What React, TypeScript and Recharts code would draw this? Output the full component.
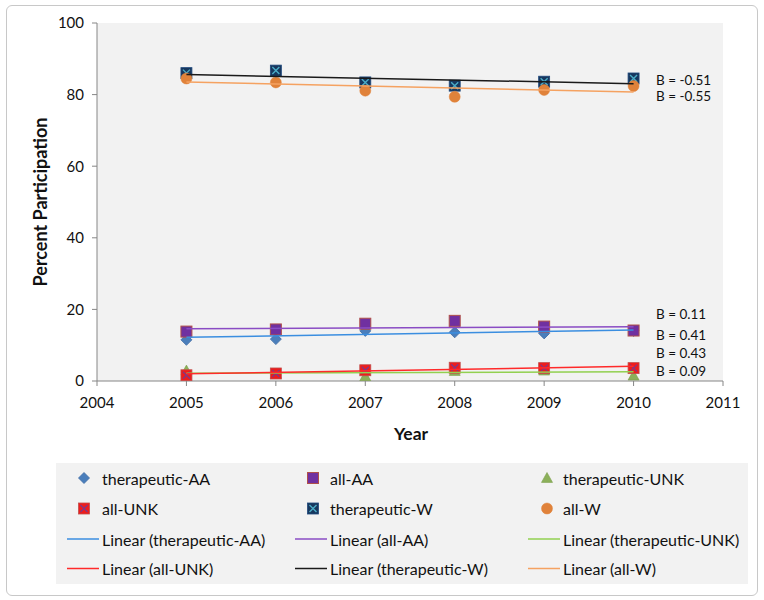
import React from "react";
import { ComposedChart, Scatter, XAxis, YAxis, CartesianGrid } from "recharts";

const years = [2005, 2006, 2007, 2008, 2009, 2010];
const therapeuticAA = [11.5, 11.7, 14.0, 13.6, 13.3, 14.0];
const allAA = [13.8, 14.4, 16.0, 16.8, 15.2, 14.1];
const therapeuticUNK = [2.9, 2.0, 1.3, 2.8, 2.9, 1.5];
const allUNK = [1.6, 2.1, 3.0, 3.7, 3.6, 3.6];
const therapeuticW = [86.0, 86.7, 83.4, 82.5, 83.6, 84.5];
const allW = [84.5, 83.4, 81.1, 79.4, 81.3, 82.4];

const trendYears = [2005, 2010];
const trendTherapeuticAA = [12.2, 14.25];
const trendAllAA = [14.6, 15.15];
const trendTherapeuticUNK = [2.15, 2.6];
const trendAllUNK = [2.0, 4.1];
const trendTherapeuticW = [85.6, 83.05];
const trendAllW = [83.5, 80.75];

const xTicks = [2004, 2005, 2006, 2007, 2008, 2009, 2010, 2011];
const yTicks = [0, 20, 40, 60, 80, 100];

const slopeLabels = ["B = -0.51", "B = -0.55", "B = 0.11", "B = 0.41", "B = 0.43", "B = 0.09"];
const slopeLabelY = [81, 97, 315, 336, 354, 372];

const FONT = "Lato, 'Open Sans', sans-serif";

type MarkerKind = "diamond" | "squarePurple" | "triangle" | "squareRedX" | "squareBlueX" | "circle";

function Marker({ kind, cx, cy }: { kind: MarkerKind; cx: number; cy: number }) {
  const s = 5.5;
  switch (kind) {
    case "diamond":
      return <path d={`M${cx},${cy - s} L${cx + s},${cy} L${cx},${cy + s} L${cx - s},${cy} Z`} fill="#4a7ebb" stroke="#3d6ba3" strokeWidth={0.8} />;
    case "squarePurple":
      return <rect x={cx - s} y={cy - s} width={2 * s} height={2 * s} fill="#7030a0" stroke="#b0504a" strokeWidth={1} />;
    case "triangle":
      return <path d={`M${cx},${cy - s} L${cx + s},${cy + s * 0.8} L${cx - s},${cy + s * 0.8} Z`} fill="#8cb05a" stroke="#7a9d4a" strokeWidth={0.6} />;
    case "squareRedX":
      return (
        <g>
          <rect x={cx - s} y={cy - s} width={2 * s} height={2 * s} fill="#ee1c1c" stroke="#c0504d" strokeWidth={0.8} />
          <path d={`M${cx - s + 2},${cy - s + 2} L${cx + s - 2},${cy + s - 2} M${cx + s - 2},${cy - s + 2} L${cx - s + 2},${cy + s - 2}`} stroke="#7a3a8a" strokeWidth={1.2} />
        </g>
      );
    case "squareBlueX":
      return (
        <g>
          <rect x={cx - s} y={cy - s} width={2 * s} height={2 * s} fill="#17375e" stroke="#1f497d" strokeWidth={0.8} />
          <path d={`M${cx - s + 2},${cy - s + 2} L${cx + s - 2},${cy + s - 2} M${cx + s - 2},${cy - s + 2} L${cx - s + 2},${cy + s - 2}`} stroke="#4bacc6" strokeWidth={1.4} />
        </g>
      );
    case "circle":
      return <circle cx={cx} cy={cy} r={s} fill="#e0823a" stroke="#e0823a" strokeWidth={0.5} />;
  }
  return null;
}

const series = [
  { name: "therapeutic-AA", values: therapeuticAA, marker: "diamond" as MarkerKind, trend: trendTherapeuticAA, trendColor: "#3b8ee0" },
  { name: "all-AA", values: allAA, marker: "squarePurple" as MarkerKind, trend: trendAllAA, trendColor: "#8a4cc4" },
  { name: "therapeutic-UNK", values: therapeuticUNK, marker: "triangle" as MarkerKind, trend: trendTherapeuticUNK, trendColor: "#92d050" },
  { name: "all-UNK", values: allUNK, marker: "squareRedX" as MarkerKind, trend: trendAllUNK, trendColor: "#ff2a2a" },
  { name: "therapeutic-W", values: therapeuticW, marker: "squareBlueX" as MarkerKind, trend: trendTherapeuticW, trendColor: "#1a1a1a" },
  { name: "all-W", values: allW, marker: "circle" as MarkerKind, trend: trendAllW, trendColor: "#f5a261" },
];

const legendMarkerOrder = [0, 1, 2, 3, 4, 5];
const legendColTextX = [102, 330, 563];
const legendColMarkerX = [84, 313, 547];
const legendRowY = [478, 508.5, 539, 568.5];

function Legend() {
  return (
    <svg width={764} height={600} style={{ position: "absolute", left: 0, top: 0, pointerEvents: "none" }}>
      <rect x={56} y={463} width={692} height={121} fill="#f2f2f2" />
      {legendMarkerOrder.map((i) => {
        const col = i % 3;
        const row = Math.floor(i / 3);
        return (
          <g key={"m" + i}>
            <Marker kind={series[i].marker} cx={legendColMarkerX[col]} cy={legendRowY[row]} />
            <text x={legendColTextX[col]} y={legendRowY[row]} dominantBaseline="central" fontSize={16} fontFamily={FONT} fill="#111">
              {series[i].name}
            </text>
          </g>
        );
      })}
      {legendMarkerOrder.map((i) => {
        const col = i % 3;
        const row = 2 + Math.floor(i / 3);
        const tx = legendColTextX[col];
        return (
          <g key={"l" + i}>
            <line x1={tx - 35} x2={tx - 3} y1={legendRowY[row]} y2={legendRowY[row]} stroke={series[i].trendColor} strokeWidth={1.5} />
            <text x={tx} y={legendRowY[row]} dominantBaseline="central" fontSize={16} fontFamily={FONT} fill="#111">
              {`Linear (${series[i].name})`}
            </text>
          </g>
        );
      })}
    </svg>
  );
}

export default function App() {
  const pointData = series.map((s) => years.map((y, j) => ({ x: y, y: s.values[j] })));
  const trendData = series.map((s) => trendYears.map((y, j) => ({ x: y, y: s.trend[j] })));
  const tickStyle = { fontSize: 15, fill: "#111", fontFamily: FONT };
  return (
    <div style={{ position: "absolute", left: 0, top: 0, width: 764, height: 600, background: "#fff", fontFamily: FONT }}>
      <div style={{ position: "absolute", left: 6, top: 5, width: 750, height: 589, border: "1px solid #c8c8c8", borderRadius: 6 }} />
      <div style={{ position: "absolute", left: 0, top: 0 }}>
        <ComposedChart width={764} height={600} margin={{ top: 23, right: 41, bottom: 189, left: 37 }}>
          <CartesianGrid horizontal={false} vertical={false} fill="#f2f2f2" stroke="none" />
          <XAxis
            type="number"
            dataKey="x"
            domain={[2004, 2011]}
            ticks={xTicks}
            allowDataOverflow
            height={30}
            tickSize={5}
            tickMargin={11}
            stroke="#868686"
            tick={tickStyle}
            interval={0}
          />
          <YAxis
            type="number"
            dataKey="y"
            domain={[0, 100]}
            ticks={yTicks}
            allowDataOverflow
            width={60}
            tickSize={5}
            tickMargin={8}
            stroke="#868686"
            tick={tickStyle}
            interval={0}
          />
          {series.map((s, i) => (
            <Scatter
              key={"p" + s.name}
              name={s.name}
              data={pointData[i]}
              isAnimationActive={false}
              shape={(p: any) => <Marker kind={s.marker} cx={p.cx} cy={p.cy} />}
            />
          ))}
          {series.map((s, i) => (
            <Scatter
              key={"t" + s.name}
              name={`Linear (${s.name})`}
              data={trendData[i]}
              isAnimationActive={false}
              line={{ stroke: s.trendColor, strokeWidth: 1.5 }}
              shape={() => <g />}
              legendType="none"
            />
          ))}
        </ComposedChart>
      </div>
      <div
        style={{
          position: "absolute",
          left: 40,
          top: 202,
          transform: "translate(-50%, -50%) rotate(-90deg)",
          fontWeight: 700,
          fontSize: 18,
          whiteSpace: "nowrap",
          color: "#111",
        }}
      >
        Percent Participation
      </div>
      <div
        style={{
          position: "absolute",
          left: 411,
          top: 433,
          transform: "translate(-50%, -50%)",
          fontWeight: 700,
          fontSize: 17.5,
          whiteSpace: "nowrap",
          color: "#111",
        }}
      >
        Year
      </div>
      {slopeLabels.map((t, i) => (
        <div
          key={t + i}
          style={{
            position: "absolute",
            left: 656,
            top: slopeLabelY[i],
            transform: "translateY(-50%)",
            fontSize: 13.5,
            whiteSpace: "nowrap",
            color: "#111",
            lineHeight: 1,
          }}
        >
          {t}
        </div>
      ))}
      <Legend />
    </div>
  );
}
